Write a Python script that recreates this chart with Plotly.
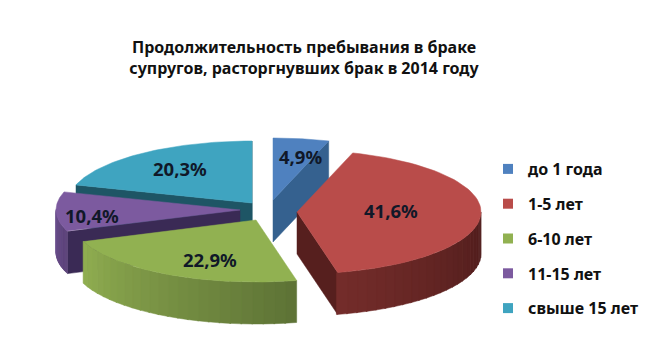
import numpy as np
import plotly.graph_objects as go

categories = ["до 1 года", "1-5 лет", "6-10 лет", "11-15 лет", "свыше 15 лет"]
values = [4.9, 41.6, 22.9, 10.4, 20.3]

# styles
top_colors = ["#4f81bf", "#b94c4a", "#91b151", "#7c5a9f", "#3fa4c0"]
cut_colors = ["#35618f", "#561f1e", "#5f7537", "#3a2a55", "#1e5565"]
wall_light = ["#3d6ea3", "#732c2a", "#8fad50", "#6b4f8c", "#2f8098"]
wall_dark = ["#35618f", "#4e1c1b", "#5e7336", "#5c4379", "#2f8098"]
swatch_colors = top_colors
centres = [(273, 200), (297, 212), (256, 220), (240, 210), (252, 203)]
label_xy = [(300, 156), (391, 210), (210, 259), (92, 215), (180, 168)]
RX, RY, DEPTH = 184, 62, 42
draw_order = [4, 0, 3, 1, 2]

W, H = 665, 360
fig = go.Figure()

shares = np.array(values) / sum(values) * 360
ends = np.cumsum(shares)
starts = ends - shares


def poly(xs, ys, color):
    fig.add_trace(go.Scatter(x=list(xs), y=list(ys), mode="lines", fill="toself",
                             fillcolor=color, line=dict(color=color, width=0.5),
                             hoverinfo="skip", showlegend=False))


def point(c, deg):
    r = np.radians(deg)
    return c[0] + RX * np.sin(r), c[1] - RY * np.cos(r)


def mix(a, b, t):
    ca = [int(a[i:i + 2], 16) for i in (1, 3, 5)]
    cb = [int(b[i:i + 2], 16) for i in (1, 3, 5)]
    return "rgb(%d,%d,%d)" % tuple(round(x + (y - x) * t) for x, y in zip(ca, cb))


for i in draw_order:
    c, a, b = centres[i], starts[i], ends[i]
    # radial cut faces that look towards the viewer
    for deg, visible in ((a, np.sin(np.radians(a)) < 0), (b, np.sin(np.radians(b)) > 0)):
        if visible:
            px, py = point(c, deg)
            poly([c[0], px, px, c[0], c[0]],
                 [c[1], py, py + DEPTH, c[1] + DEPTH, c[1]], cut_colors[i])
    # outer wall, shaded in strips: dark on the right, light on the left
    lo, hi = max(a, 90), min(b, 270)
    if hi > lo:
        edges = np.linspace(lo, hi, 25)
        for k in range(24):
            t = np.linspace(edges[k], edges[k + 1] + 0.4, 4)
            x, y = point(c, t)
            poly(list(x) + list(x[::-1]) + [x[0]],
                 list(y) + list((y + DEPTH)[::-1]) + [y[0]],
                 mix(wall_light[i], wall_dark[i], 1 - k / 23))
    # top face
    t = np.linspace(a, b, 60)
    x, y = point(c, t)
    poly([c[0]] + list(x) + [c[0]], [c[1]] + list(y) + [c[1]], top_colors[i])

for i, name in enumerate(categories):
    fig.add_trace(go.Scatter(x=[None], y=[None], mode="markers", name=name,
                             legendgroup=name,
                             marker=dict(symbol="square", size=10, color=swatch_colors[i])))

annotations = [dict(x=lx, y=ly, xref="x", yref="y", showarrow=False,
                    text=f"<b>{v:.1f}%</b>".replace(".", ","),
                    font=dict(family="Noto Sans", size=18.5, color="#101828"))
               for v, (lx, ly) in zip(values, label_xy)]

fig.update_layout(
    width=W, height=H, autosize=False,
    margin=dict(l=0, r=0, t=0, b=0),
    paper_bgcolor="white", plot_bgcolor="white",
    xaxis=dict(range=[0, W], visible=False, fixedrange=True),
    yaxis=dict(range=[H, 0], visible=False, fixedrange=True),
    title=dict(text="<b>Продолжительность пребывания в браке<br>супругов, расторгнувших брак в 2014 году</b>",
               x=304 / W, xanchor="center", y=1 - 53 / H, yanchor="middle",
               font=dict(family="Noto Sans", size=16, color="#111111")),
    legend=dict(x=488 / W, xanchor="left", y=1 - 152 / H, yanchor="top",
                font=dict(family="Noto Sans", size=16, color="#111111", weight="bold"),
                tracegroupgap=11, bgcolor="rgba(0,0,0,0)"),
    annotations=annotations,
)
fig.write_html("out.html", post_script="document.body.style.margin='0';",
               config={"displayModeBar": False})
